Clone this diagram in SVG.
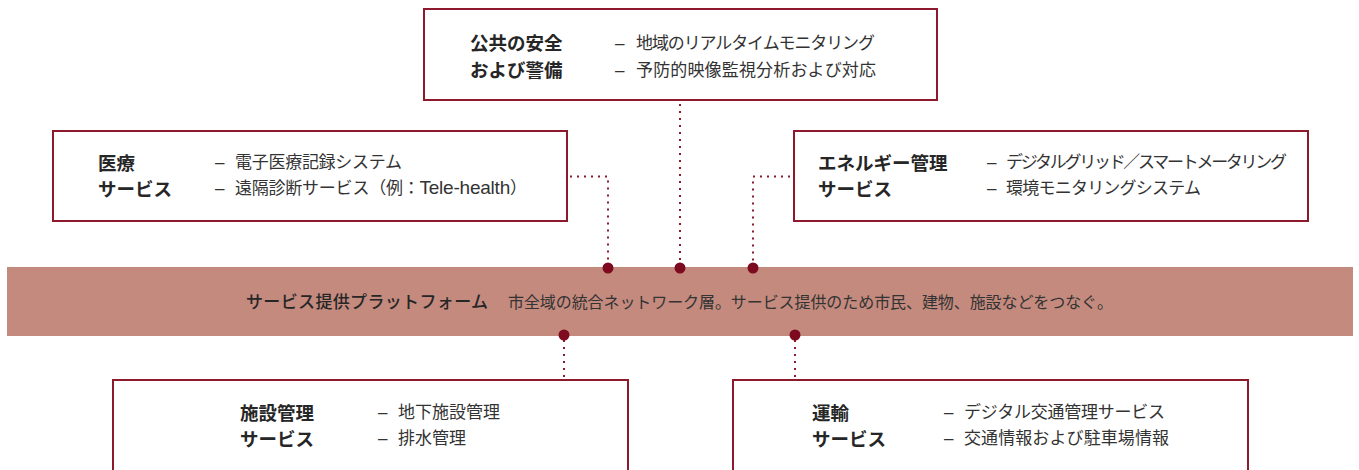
<svg xmlns="http://www.w3.org/2000/svg" width="1359" height="470" viewBox="0 0 1359 470">
<style>
.box{fill:#fff;stroke:#8c1a2c;stroke-width:2}
.t{font-family:"Noto Sans CJK JP","Noto Sans",sans-serif;font-size:18.5px;font-weight:700;fill:#262626}
.i{font-family:"Noto Sans CJK JP","Noto Sans",sans-serif;font-size:17px;fill:#333}
.d{font-family:"Liberation Sans",sans-serif;font-size:17px;fill:#333}
.lat{font-family:"Liberation Sans",Arial,sans-serif;font-size:19px}
.con{fill:none;stroke:#8c1a2c;stroke-width:2;stroke-dasharray:2 5}
.dot{fill:#7d0a1f}
</style>
<rect x="7" y="267" width="1346" height="69" fill="#c48a7e"/>
<g id="connectors">
<path class="con" d="M680,104 V266"/>
<path class="con" d="M570,176.5 H608 V266"/>
<path class="con" d="M790,176.5 H753 V266"/>
<path class="con" d="M564,340 V378"/>
<path class="con" d="M795,340 V378"/>
<circle class="dot" cx="608" cy="268" r="5.5"/>
<circle class="dot" cx="680" cy="268" r="5.5"/>
<circle class="dot" cx="753" cy="268" r="5.5"/>
<circle class="dot" cx="564" cy="335" r="5.5"/>
<circle class="dot" cx="795" cy="335" r="5.5"/>
</g>
<g id="platform">
<text x="246" y="308" class="t" style="font-size:17px;font-weight:500" textLength="242" lengthAdjust="spacing">サービス提供プラットフォーム</text>
<text x="508" y="308" class="i" style="font-size:16px" textLength="605" lengthAdjust="spacing">市全域の統合ネットワーク層。サービス提供のため市民、建物、施設などをつなぐ。</text>
</g>
<g id="safety">
<rect class="box" x="424" y="9" width="513" height="91"/>
<text x="470" y="49.5" class="t">公共の安全</text>
<text x="470" y="76.5" class="t">および警備</text>
<text x="615" y="49" class="d">–</text>
<text x="636" y="49" class="i" textLength="239" lengthAdjust="spacing">地域のリアルタイムモニタリング</text>
<text x="615" y="76" class="d">–</text>
<text x="636" y="76" class="i" textLength="240" lengthAdjust="spacing">予防的映像監視分析および対応</text>
</g>
<g id="medical">
<rect class="box" x="53" y="131" width="514" height="90"/>
<text x="98" y="170" class="t">医療</text>
<text x="98" y="196" class="t">サービス</text>
<text x="215" y="168" class="d">–</text>
<text x="235" y="168" class="i" textLength="167" lengthAdjust="spacing">電子医療記録システム</text>
<text x="215" y="194" class="d">–</text>
<text x="235" y="194" class="i" textLength="292" lengthAdjust="spacing">遠隔診断サービス（例：<tspan class="lat">Tele-health</tspan>）</text>
</g>
<g id="energy">
<rect class="box" x="794" y="131" width="514" height="90"/>
<text x="818" y="170" class="t">エネルギー管理</text>
<text x="818" y="196" class="t">サービス</text>
<text x="987" y="168" class="d">–</text>
<text x="1006" y="168" class="i" textLength="281" lengthAdjust="spacing">デジタルグリッド／スマートメータリング</text>
<text x="987" y="194" class="d">–</text>
<text x="1006" y="194" class="i" textLength="195" lengthAdjust="spacing">環境モニタリングシステム</text>
</g>
<g id="facility">
<rect class="box" x="113" y="380" width="515" height="110"/>
<text x="240" y="420" class="t">施設管理</text>
<text x="240" y="446" class="t">サービス</text>
<text x="378" y="418" class="d">–</text>
<text x="398" y="418" class="i">地下施設管理</text>
<text x="378" y="444" class="d">–</text>
<text x="398" y="444" class="i">排水管理</text>
</g>
<g id="transport">
<rect class="box" x="733" y="380" width="515" height="110"/>
<text x="812" y="420" class="t">運輸</text>
<text x="812" y="446" class="t">サービス</text>
<text x="944" y="418" class="d">–</text>
<text x="964" y="418" class="i" textLength="201" lengthAdjust="spacing">デジタル交通管理サービス</text>
<text x="944" y="444" class="d">–</text>
<text x="964" y="444" class="i" textLength="205" lengthAdjust="spacing">交通情報および駐車場情報</text>
</g>
</svg>
